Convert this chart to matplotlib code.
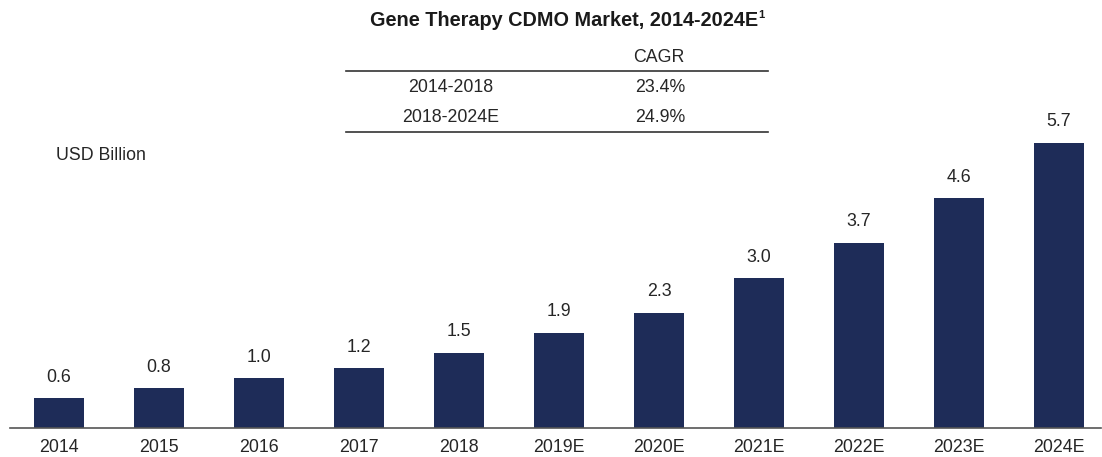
import matplotlib
matplotlib.use("Agg")
import matplotlib.pyplot as plt
from matplotlib.lines import Line2D

plt.rcParams['font.family'] = ['Liberation Sans', 'DejaVu Sans']

categories = ["2014", "2015", "2016", "2017", "2018", "2019E", "2020E",
              "2021E", "2022E", "2023E", "2024E"]
values = [0.6, 0.8, 1.0, 1.2, 1.5, 1.9, 2.3, 3.0, 3.7, 4.6, 5.7]
cagr_periods = ["2014-2018", "2018-2024E"]
cagr_values = ["23.4%", "24.9%"]

W, H = 1102, 457
fig = plt.figure(figsize=(W / 100, H / 100), dpi=100)
FS = 12.8
TXT = "#262626"

ax_left, ax_right = 10, 1101
base_y = 428
ax = fig.add_axes([ax_left / W, (H - base_y) / H, (ax_right - ax_left) / W, 300 / H])
x = list(range(len(categories)))
bars = ax.bar(x, values, width=0.5, color="#1e2c58")
ax.set_xlim(-0.49, 10.42)
ax.set_ylim(0, 6.0)
for s in ["top", "right", "left"]:
    ax.spines[s].set_visible(False)
ax.spines["bottom"].set_color("#555555")
ax.spines["bottom"].set_linewidth(1.2)
ax.set_yticks([])
ax.set_xticks(x)
ax.set_xticklabels(categories, fontsize=FS, color=TXT)
ax.tick_params(axis="x", length=0, pad=8)
ax.bar_label(bars, labels=[f"{v:.1f}" for v in values], padding=9,
             fontsize=FS, color=TXT)

# Title and table
title = fig.text(370 / W, 1 - 20 / H, "Gene Therapy CDMO Market, 2014-2024E",
                 ha="left", va="center", fontsize=14.3, fontweight="bold", color="#1a1a1a")
fig.canvas.draw()
bb = title.get_window_extent()
fig.text(bb.x1 / W + 0.5 / W, 1 - 15 / H, "1", ha="left", va="center",
         fontsize=8, fontweight="bold", color="#1a1a1a")

fig.text(659 / W, 1 - 57 / H, "CAGR", ha="center", va="center", fontsize=FS, color=TXT)
row_y = [88, 117]
for p, c, yy in zip(cagr_periods, cagr_values, row_y):
    fig.text(451 / W, 1 - yy / H, p, ha="center", va="center", fontsize=FS, color=TXT)
    fig.text(660 / W, 1 - yy / H, c, ha="center", va="center", fontsize=FS, color=TXT)
for ly in [71, 132]:
    fig.add_artist(Line2D([346 / W, 768 / W], [1 - ly / H, 1 - ly / H],
                          transform=fig.transFigure, color="#333333", lw=1.2))

fig.text(56 / W, 1 - 156 / H, "USD Billion", ha="left", va="center", fontsize=FS, color=TXT)

fig.savefig("out.png", dpi=100)
